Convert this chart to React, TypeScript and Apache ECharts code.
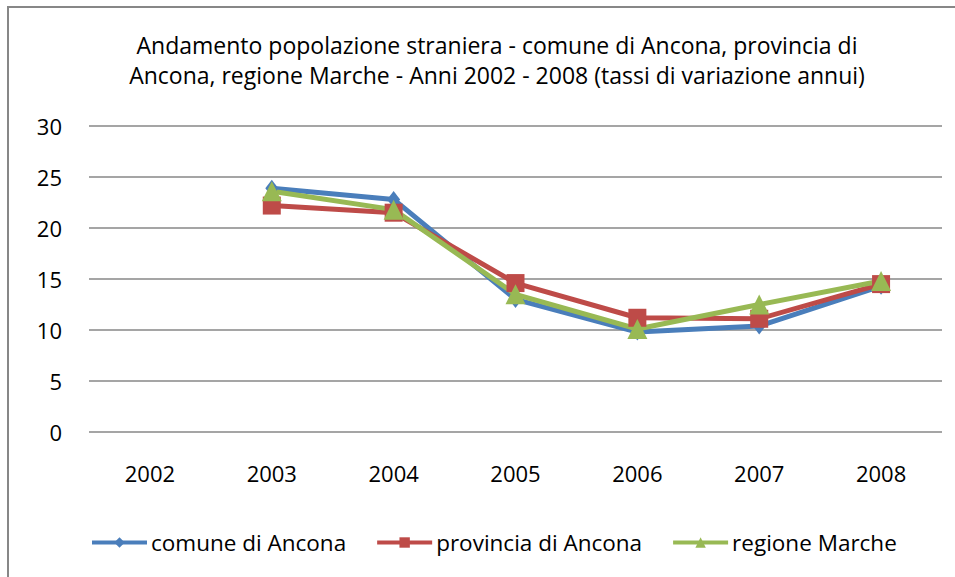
import React, { useEffect, useRef } from "react";
import * as echarts from "echarts";

const years = ["2002", "2003", "2004", "2005", "2006", "2007", "2008"];
const comune = [null, 23.9, 22.8, 13.0, 9.8, 10.4, 14.3];
const provincia = [null, 22.2, 21.5, 14.6, 11.2, 11.1, 14.5];
const regione = [null, 23.6, 21.8, 13.5, 10.1, 12.5, 14.8];
const titleText =
  "Andamento popolazione straniera - comune di Ancona, provincia di\nAncona, regione Marche - Anni 2002 - 2008 (tassi di variazione annui)";

const FONT = "'Open Sans', sans-serif";

export default function App() {
  const ref = useRef<HTMLDivElement>(null);
  useEffect(() => {
    document.body.style.margin = "0";
    const chart = echarts.init(ref.current!, null, { renderer: "svg" });
    const mk = (name: string, data: any[], color: string, symbol: string, size: any) => ({
      name,
      type: "line",
      data,
      symbol,
      symbolSize: size,
      showAllSymbol: true,
      connectNulls: false,
      lineStyle: { color, width: 5 },
      itemStyle: { color },
      emphasis: { disabled: true },
    });
    chart.setOption({
      animation: false,
      backgroundColor: "#ffffff",
      title: {
        text: titleText,
        left: 492,
        textAlign: "center",
        top: 25,
        textStyle: { fontFamily: FONT, fontSize: 23, fontWeight: "normal", color: "#000", lineHeight: 30 },
      },
      graphic: [
        {
          type: "rect",
          shape: { x: 8, y: 7, width: 1200, height: 1200 },
          style: { fill: "none", stroke: "#878787", lineWidth: 2 },
          silent: true,
        },
      ],
      legend: {
        top: 526,
        left: 85,
        itemWidth: 55,
        itemHeight: 13,
        itemGap: 29,
        lineStyle: { width: 4 },
        textStyle: { fontFamily: FONT, fontSize: 22.5, color: "#000", padding: [0, 0, 0, -1] },
        data: ["comune di Ancona", "provincia di Ancona", "regione Marche"],
      },
      grid: { left: 89, right: 13, top: 126, bottom: 145 },
      xAxis: {
        type: "category",
        data: years,
        boundaryGap: true,
        axisLine: { show: false },
        axisTick: { show: false },
        axisLabel: { fontFamily: FONT, fontSize: 22, color: "#000", margin: 30 },
      },
      yAxis: {
        type: "value",
        min: 0,
        max: 30,
        interval: 5,
        axisLine: { show: false },
        axisTick: { show: false },
        axisLabel: { fontFamily: FONT, fontSize: 22, color: "#000", margin: 27 },
        splitLine: { lineStyle: { color: "#878787", width: 1.5 } },
      },
      series: [
        mk("comune di Ancona", comune, "#4A7EBB", "diamond", [13, 17]),
        mk("provincia di Ancona", provincia, "#BE4B48", "rect", 18),
        mk("regione Marche", regione, "#98B954", "triangle", 20),
      ],
    });
    return () => chart.dispose();
  }, []);
  return <div ref={ref} style={{ width: 955, height: 577 }} />;
}
